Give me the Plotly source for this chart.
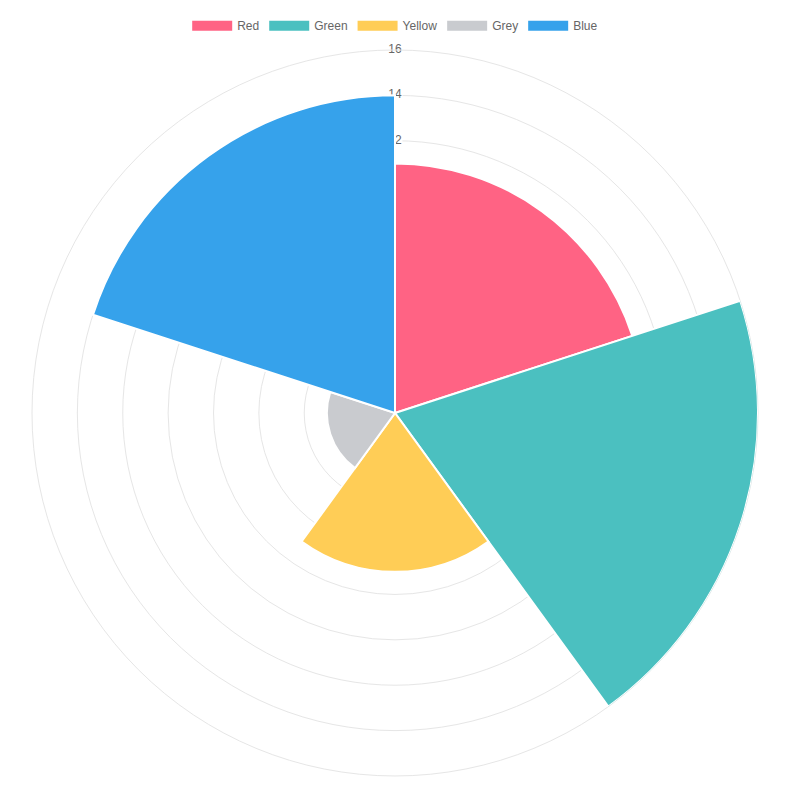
import plotly.graph_objects as go

labels = ["Red", "Green", "Yellow", "Grey", "Blue"]
values = [11, 16, 7, 3, 14]
colors = ["rgb(255,99,132)", "rgb(75,192,192)", "rgb(255,205,86)",
          "rgb(201,203,207)", "rgb(54,162,235)"]
tick_vals = [2, 4, 6, 8, 10, 12, 14, 16]

sector = 360 / len(labels)
font_family = "Liberation Sans, Arial, sans-serif"

fig = go.Figure()

# scale labels live on the bottom subplot so the sectors cover them (like chart.js)
fig.add_trace(go.Scatterpolar(
    r=tick_vals,
    theta=[0] * len(tick_vals),
    mode="markers+text",
    text=[str(v) for v in tick_vals],
    textposition="middle center",
    textfont=dict(size=12, color="#666", family=font_family),
    marker=dict(symbol="square", size=15, color="white"),
    showlegend=False,
    hoverinfo="skip",
    subplot="polar",
))

for i, (name, val, col) in enumerate(zip(labels, values, colors)):
    fig.add_trace(go.Barpolar(
        name=name,
        r=[val],
        theta=[sector * i + sector / 2],
        width=[sector],
        marker=dict(color=col, line=dict(color="white", width=2)),
        legendgroup=name,
        showlegend=False,
        subplot="polar2",
    ))
    # wide legend swatch
    fig.add_trace(go.Scatterpolar(
        name=name,
        r=[None],
        theta=[None],
        mode="lines",
        line=dict(color=col, width=12),
        legendgroup=name,
        subplot="polar2",
    ))

domain = dict(x=[0.03, 0.9375], y=[0.0448, 0.9478])
radial = dict(range=[0, 16], tickvals=tick_vals, showticklabels=False,
              ticks="", showline=False, angle=90)
angular = dict(rotation=90, direction="clockwise", showgrid=False,
               showticklabels=False, ticks="")

fig.update_layout(
    width=800,
    height=804,
    margin=dict(l=0, r=0, t=0, b=0),
    paper_bgcolor="white",
    font=dict(family=font_family, size=12, color="#666"),
    polar=dict(
        domain=domain,
        bgcolor="white",
        radialaxis=dict(radial, gridcolor="#e6e6e6", gridwidth=1),
        angularaxis=dict(angular, linecolor="#e6e6e6", linewidth=1),
    ),
    polar2=dict(
        domain=domain,
        bgcolor="rgba(0,0,0,0)",
        bargap=0,
        radialaxis=dict(radial, showgrid=False),
        angularaxis=dict(angular, showline=False),
    ),
    legend=dict(
        orientation="h",
        x=0.484,
        xanchor="center",
        y=0.978,
        yanchor="middle",
        font=dict(size=12, color="#666"),
        itemwidth=40,
    ),
)

fig.write_html("out.html", config={"displayModeBar": False})
